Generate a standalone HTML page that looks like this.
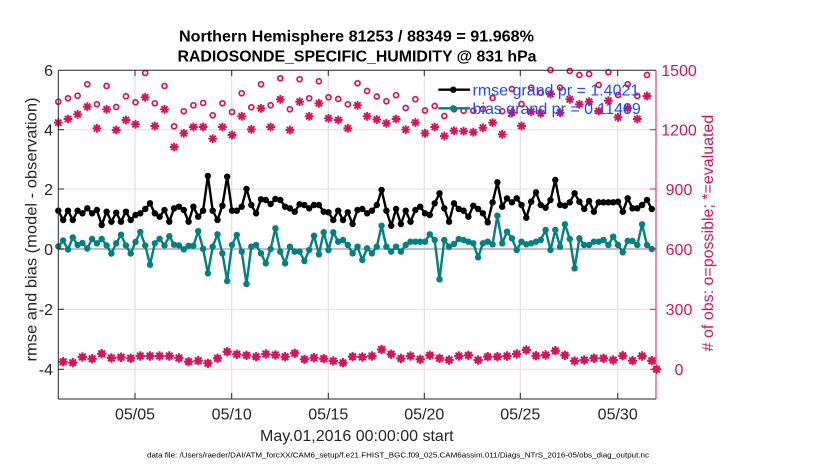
<!DOCTYPE html>
<html>
<head>
<meta charset="utf-8">
<style>
  html,body{margin:0;padding:0;background:#fff;}
  svg{display:block;}
  text{font-family:"Liberation Sans", Arial, sans-serif;}
</style>
</head>
<body>
<svg width="830" height="470" viewBox="0 0 830 470" xmlns="http://www.w3.org/2000/svg">
  <defs>
    <marker id="mb" markerUnits="userSpaceOnUse" markerWidth="10" markerHeight="10" refX="5" refY="5" viewBox="0 0 10 10" overflow="visible">
      <circle cx="5" cy="5" r="3.2" fill="#000"/>
    </marker>
    <marker id="mt" markerUnits="userSpaceOnUse" markerWidth="10" markerHeight="10" refX="5" refY="5" viewBox="0 0 10 10" overflow="visible">
      <circle cx="5" cy="5" r="3.2" fill="#00807e"/>
    </marker>
    <marker id="mc" markerUnits="userSpaceOnUse" markerWidth="10" markerHeight="10" refX="5" refY="5" viewBox="0 0 10 10" overflow="visible">
      <circle cx="5" cy="5" r="2.5" fill="none" stroke="#d6145a" stroke-width="1.7"/>
    </marker>
    <marker id="ma" markerUnits="userSpaceOnUse" markerWidth="10" markerHeight="10" refX="5" refY="5" viewBox="0 0 10 10" overflow="visible">
      <path d="M0.6,5H9.4M5,0.6V9.4M1.9,1.9L8.1,8.1M8.1,1.9L1.9,8.1" stroke="#d6145a" stroke-width="1.9" fill="none"/>
      <circle cx="5" cy="5" r="2" fill="#d6145a"/>
    </marker>
    <marker id="md" markerUnits="userSpaceOnUse" markerWidth="10" markerHeight="10" refX="5" refY="5" viewBox="0 0 10 10" overflow="visible">
      <path d="M0.3,5H9.7M5,0.3V9.7M1.7,1.7L8.3,8.3M8.3,1.7L1.7,8.3" stroke="#d6145a" stroke-width="2" fill="none"/>
      <circle cx="5" cy="5" r="3.4" fill="#d6145a"/>
    </marker>
  </defs>

  <!-- Titles -->
  <text x="356.5" y="41.7" font-size="16" font-weight="bold" text-anchor="middle" fill="#000" textLength="355" lengthAdjust="spacingAndGlyphs">Northern Hemisphere 81253 / 88349 = 91.968%</text>
  <text x="357" y="61.7" font-size="16" font-weight="bold" text-anchor="middle" fill="#000" textLength="359" lengthAdjust="spacingAndGlyphs">RADIOSONDE_SPECIFIC_HUMIDITY @ 831 hPa</text>

  <!-- Vertical grid -->
  <g stroke="#dadada" stroke-width="1">
    <line x1="135" y1="70.3" x2="135" y2="399"/>
    <line x1="231.7" y1="70.3" x2="231.7" y2="399"/>
    <line x1="328.3" y1="70.3" x2="328.3" y2="399"/>
    <line x1="424.3" y1="70.3" x2="424.3" y2="399"/>
    <line x1="520.3" y1="70.3" x2="520.3" y2="399"/>
    <line x1="617.7" y1="70.3" x2="617.7" y2="399"/>
  </g>
  <!-- Horizontal grid (pinkish) -->
  <g stroke="#f4d6e0" stroke-width="1">
    <line x1="58.3" y1="129.7" x2="656" y2="129.7"/>
    <line x1="58.3" y1="189" x2="656" y2="189"/>
    <line x1="58.3" y1="309.3" x2="656" y2="309.3"/>
    <line x1="58.3" y1="369.3" x2="656" y2="369.3"/>
  </g>
  <!-- zero line -->
  <line x1="58.3" y1="249" x2="656" y2="249" stroke="#c4bcc0" stroke-width="2"/>

  <!-- Count series -->
  <polyline fill="none" stroke="none" marker-start="url(#mc)" marker-mid="url(#mc)" marker-end="url(#mc)"
    points="58.3,101.7 68,98.3 77.6,95.7 87.3,84.3 96.9,104.3 106.6,86 116.2,107 125.9,96.3 135.5,102.3 145.2,73 154.8,103.3 164.5,86 174.1,126.3 183.8,111.3 193.4,105.3 203.1,103 212.7,115.3 222.4,103.3 232,112 241.7,93.3 251.3,107.3 261,84.3 270.6,105.3 280.3,78.3 289.9,109.3 299.6,79.3 309.2,98.3 318.9,81.3 328.5,97.3 338.2,99 347.8,104.3 357.5,83.3 367.1,91 376.8,96.5 386.4,101.2 396.1,95.2 405.7,108 415.4,99.2 425,110.5 434.7,106 444.3,116 454,109.3 463.6,110.7 473.3,110.7 482.9,109 492.6,98 502.2,111.2 511.9,89 521.5,104 531.2,87.7 540.8,92.7 550.5,70 560.1,87.7 569.8,71 579.4,75 589.1,74 598.7,85 608.4,72.3 618,95 627.7,84.3 637.3,96 647,75"/>
  <polyline fill="none" stroke="none" marker-start="url(#ma)" marker-mid="url(#ma)" marker-end="url(#ma)"
    points="58.3,122.7 68,119 77.6,114.3 87.3,106.7 96.9,128.3 106.6,109.3 116.2,130 125.9,120 135.5,124.3 145.2,97.3 154.8,126 164.5,109.3 174.1,147 183.8,133.3 193.4,127 203.1,127 212.7,138.7 222.4,127 232,135 241.7,116.3 251.3,129.3 261,108.3 270.6,127 280.3,99.3 289.9,130 299.6,101.7 309.2,116.3 318.9,103.3 328.5,118.3 338.2,120 347.8,128.3 357.5,105.3 367.1,116.3 376.8,119.5 386.4,123.3 396.1,119 405.7,129.6 415.4,122.5 425,133.3 434.7,127 444.3,136 454,130.8 463.6,131.2 473.3,132.2 482.9,127.8 492.6,122.7 502.2,134.3 511.9,112.7 521.5,126 531.2,111.7 540.8,113.3 550.5,94 560.1,112.7 569.8,99.3 579.4,104.3 589.1,101.7 598.7,111 608.4,100.7 618,117.3 627.7,108.3 637.3,119 647,96"/>
  <polyline fill="none" stroke="none" marker-start="url(#md)" marker-mid="url(#md)" marker-end="url(#md)"
    points="63.1,361.7 72.8,362.7 82.4,357 92.1,358.7 101.7,353.7 111.4,358 121,357.3 130.7,358.3 140.3,356 150,356 159.6,356 169.3,356 178.9,358 188.6,361.7 198.2,360.7 207.9,363.3 217.5,358.3 227.2,351.7 236.8,354.3 246.5,355.3 256.1,356.7 265.8,354 275.4,355 285.1,356.7 294.7,353.3 304.4,359.3 314,357.7 323.7,358.7 333.3,361 343,362.7 352.6,356.7 362.3,357 371.9,356 381.6,349.5 391.2,354.2 400.9,358.5 410.5,356 420.2,359.3 429.8,355.3 439.5,358.3 449.1,360 458.8,356 468.4,355.3 478.1,360 487.7,356.7 497.4,356.7 507,356 516.7,354 526.3,350 536,355.7 545.6,355 555.3,350.7 564.9,355.3 574.6,361 584.2,360 593.9,358.3 603.5,358.3 613.2,360 622.8,355.7 632.5,360.7 642.1,356 651.8,360.7 656.5,369.3"/>

  <!-- bias (teal) -->
  <polyline fill="none" stroke="#00807e" stroke-width="2.4" stroke-linejoin="round" marker-start="url(#mt)" marker-mid="url(#mt)" marker-end="url(#mt)"
    points="58.3,246.5 63.1,240.5 68,249.5 72.8,237.5 77.6,245 82.4,243 87.3,248.5 92.1,239 96.9,243.3 101.7,239 106.6,245.5 111.4,253.5 116.2,243.3 121,234.7 125.9,245.5 130.7,253.5 135.5,242 140.3,232 145.2,245.5 150,264.7 154.8,243.3 159.6,238.8 164.5,245.5 169.3,236.2 174.1,244.7 178.9,245.5 183.8,249.3 188.6,245.8 193.4,245.8 198.2,231.2 203.1,248.8 207.9,273.3 212.7,246.7 217.5,234.3 222.4,253.3 227.2,281 232,245 236.8,235 241.7,251.7 246.5,284 251.3,246.7 256.1,245 261,253.3 265.8,263.3 270.6,249 275.4,228.3 280.3,251.7 285.1,263.3 289.9,246.7 294.7,251.7 299.6,251.7 304.4,261 309.2,250 314,235.7 318.9,254.3 323.7,232.3 328.5,250 333.3,232.3 338.2,241.7 343,240 347.8,245 352.6,253.3 357.5,246.7 362.3,260 367.1,248.3 371.9,253.3 376.8,246.7 381.6,225.7 386.4,246.7 391.2,251.7 396.1,246.7 400.9,251.7 405.7,245 410.5,241.7 415.4,241.7 420.2,241.7 425,241.7 429.8,234.3 434.7,240 439.5,279.3 444.3,240 449.1,246.7 454,244 458.8,239 463.6,240 468.4,241.7 473.3,243.3 478.1,257.3 482.9,243.3 487.7,241.7 492.6,244.3 497.4,215.7 502.2,243.3 507,231.7 511.9,238.3 516.7,250 521.5,241.7 526.3,244.3 531.2,243.3 536,241.7 540.8,240 545.6,230 550.5,250 555.3,230 560.1,246.7 564.9,224.3 569.8,239 574.6,268.3 579.4,238.3 584.2,245 589.1,245 593.9,241.7 598.7,241.7 603.5,240 608.4,245 613.2,236.7 618,245 622.8,252.3 627.7,241 632.5,241 637.3,245 642.1,224.3 647,245 651.8,249"/>

  <!-- rmse (black) -->
  <polyline fill="none" stroke="#000" stroke-width="2.4" stroke-linejoin="round" marker-start="url(#mb)" marker-mid="url(#mb)" marker-end="url(#mb)"
    points="58.3,210.7 63.1,220 68,210.7 72.8,220 77.6,210.7 82.4,213.3 87.3,208.3 92.1,213.3 96.9,210 101.7,225 106.6,211.7 111.4,221.7 116.2,212.7 121,221.7 125.9,211.7 130.7,220 135.5,215 140.3,213.3 145.2,209 150,203.3 154.8,213.3 159.6,216.7 164.5,210 169.3,221.7 174.1,208.3 178.9,206.7 183.8,210 188.6,221.7 193.4,206.7 198.2,216.7 203.1,210.7 207.9,176 212.7,210.7 217.5,220 222.4,205.7 227.2,176.7 232,210.7 236.8,210.7 241.7,206.7 246.5,189 251.3,205 256.1,213.3 261,199.3 265.8,200 270.6,204 275.4,199 280.3,200 285.1,206.7 289.9,208.3 294.7,211.7 299.6,204.3 304.4,205 309.2,208.3 314,205 318.9,205 323.7,211.7 328.5,212.3 333.3,220 338.2,210.7 343,220 347.8,212.3 352.6,224 357.5,210 362.3,209 367.1,213.3 371.9,210.7 376.8,205 381.6,190 386.4,210.7 391.2,225.7 396.1,209 400.9,224 405.7,210.7 410.5,221.7 415.4,210 420.2,206.7 425,213.3 429.8,215 434.7,203.3 439.5,193.3 444.3,208.3 449.1,221.7 454,203.3 458.8,209 463.6,210.7 468.4,216.7 473.3,205.7 478.1,209 482.9,213.3 487.7,222.3 492.6,202.3 497.4,182.3 502.2,206.7 507,198.5 511.9,202.3 516.7,198.3 521.5,205 526.3,217.7 531.2,201.7 536,192.3 540.8,205 545.6,207.7 550.5,200 555.3,180 560.1,205 564.9,205.7 569.8,202.3 574.6,193.3 579.4,201.7 584.2,209 589.1,201 593.9,211.7 598.7,202.3 603.5,202.3 608.4,202.3 613.2,202.3 618,201.7 622.8,211.7 627.7,198.3 632.5,208.3 637.3,208.3 642.1,205 647,200 651.8,209"/>

  <!-- Axes box -->
  <line x1="58.3" y1="70.3" x2="656" y2="70.3" stroke="#262626" stroke-width="1"/>
  <line x1="58.3" y1="399" x2="656" y2="399" stroke="#262626" stroke-width="1"/>
  <line x1="58.3" y1="70.3" x2="58.3" y2="399" stroke="#262626" stroke-width="1"/>
  <line x1="656" y1="70.3" x2="656" y2="399" stroke="#d6145a" stroke-width="1"/>

  <!-- Left ticks -->
  <g stroke="#262626" stroke-width="1">
    <line x1="58.3" y1="129.7" x2="64" y2="129.7"/>
    <line x1="58.3" y1="189" x2="64" y2="189"/>
    <line x1="58.3" y1="249" x2="64" y2="249"/>
    <line x1="58.3" y1="309.3" x2="64" y2="309.3"/>
    <line x1="58.3" y1="369.3" x2="64" y2="369.3"/>
  </g>
  <!-- Right ticks -->
  <g stroke="#d6145a" stroke-width="1">
    <line x1="650" y1="129.7" x2="656" y2="129.7"/>
    <line x1="650" y1="189" x2="656" y2="189"/>
    <line x1="650" y1="249" x2="656" y2="249"/>
    <line x1="650" y1="309.3" x2="656" y2="309.3"/>
    <line x1="650" y1="369.3" x2="656" y2="369.3"/>
  </g>
  <!-- Bottom/top ticks -->
  <g stroke="#262626" stroke-width="1">
    <line x1="135" y1="399" x2="135" y2="393"/>
    <line x1="231.7" y1="399" x2="231.7" y2="393"/>
    <line x1="328.3" y1="399" x2="328.3" y2="393"/>
    <line x1="424.3" y1="399" x2="424.3" y2="393"/>
    <line x1="520.3" y1="399" x2="520.3" y2="393"/>
    <line x1="617.7" y1="399" x2="617.7" y2="393"/>
    <line x1="135" y1="70.3" x2="135" y2="76"/>
    <line x1="231.7" y1="70.3" x2="231.7" y2="76"/>
    <line x1="328.3" y1="70.3" x2="328.3" y2="76"/>
    <line x1="424.3" y1="70.3" x2="424.3" y2="76"/>
    <line x1="520.3" y1="70.3" x2="520.3" y2="76"/>
    <line x1="617.7" y1="70.3" x2="617.7" y2="76"/>
  </g>

  <!-- Left tick labels -->
  <g font-size="16" fill="#262626" text-anchor="end">
    <text x="53" y="76">6</text>
    <text x="53" y="135.5">4</text>
    <text x="53" y="194.8">2</text>
    <text x="53" y="254.8">0</text>
    <text x="53" y="315.1">-2</text>
    <text x="53" y="375.1">-4</text>
  </g>
  <!-- Right tick labels -->
  <g font-size="16" fill="#d6145a" text-anchor="middle">
    <text x="679" y="76">1500</text>
    <text x="679" y="135.5">1200</text>
    <text x="679" y="194.8">900</text>
    <text x="679" y="254.8">600</text>
    <text x="679" y="315.1">300</text>
    <text x="679" y="375.1">0</text>
  </g>
  <!-- Date labels -->
  <g font-size="16" fill="#262626" text-anchor="middle">
    <text x="135" y="419.5">05/05</text>
    <text x="231.7" y="419.5">05/10</text>
    <text x="328.3" y="419.5">05/15</text>
    <text x="424.3" y="419.5">05/20</text>
    <text x="520.3" y="419.5">05/25</text>
    <text x="617.7" y="419.5">05/30</text>
  </g>

  <!-- Axis labels -->
  <text x="356.8" y="441" font-size="16" fill="#262626" text-anchor="middle">May.01,2016 00:00:00 start</text>
  <text transform="translate(36.5,229.5) rotate(-90)" font-size="16" fill="#262626" text-anchor="middle" textLength="264" lengthAdjust="spacingAndGlyphs">rmse and bias (model - observation)</text>
  <text transform="translate(713,233) rotate(-90)" font-size="16" fill="#d6145a" text-anchor="middle">#&#160;of obs: o=possible; *=evaluated</text>

  <!-- Footer -->
  <text x="147" y="457.5" font-size="7.5" fill="#000" textLength="502" lengthAdjust="spacingAndGlyphs">data file: /Users/raeder/DAI/ATM_forcXX/CAM6_setup/f.e21.FHIST_BGC.f09_025.CAM6assim.011/Diags_NTrS_2016-05/obs_diag_output.nc</text>

  <!-- Legend -->
  <line x1="438.3" y1="89.7" x2="470" y2="89.7" stroke="#000" stroke-width="2.4"/>
  <circle cx="453.3" cy="89.7" r="3.2" fill="#000"/>
  <line x1="438.3" y1="108.3" x2="470" y2="108.3" stroke="#00807e" stroke-width="2.4"/>
  <circle cx="453.3" cy="108.3" r="3.2" fill="#00807e"/>
  <text x="472.5" y="95.7" font-size="16" fill="#1a4bff">rmse grand pr = 1.4021</text>
  <text x="472.5" y="113.8" font-size="16" fill="#1a4bff">bias grand pr = 0.11409</text>
</svg>
</body>
</html>
